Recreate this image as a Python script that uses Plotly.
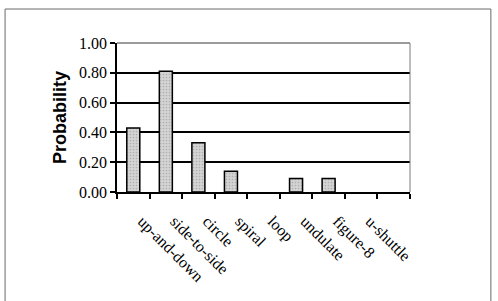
import plotly.graph_objects as go

categories = ["up-and-down", "side-to-side", "circle", "spiral", "loop",
              "undulate", "figure-8", "u-shuttle"]
probability = [0.43, 0.81, 0.33, 0.14, 0.0, 0.09, 0.09, 0.0]
y_ticks = [0.0, 0.2, 0.4, 0.6, 0.8, 1.0]

positions = list(range(len(categories)))
outline_widths = [1.5 if v > 0 else 0 for v in probability]

fig = go.Figure()
fig.add_trace(go.Bar(
    x=positions,
    y=probability,
    width=0.4,
    marker=dict(
        color="#cfcfcf",
        line=dict(color="black", width=outline_widths),
        pattern=dict(shape=".", fgcolor="#8a8a8a", bgcolor="#d4d4d4",
                     size=3, solidity=0.25),
    ),
    showlegend=False,
))

serif = "Times New Roman"

fig.update_layout(
    width=498, height=301,
    margin=dict(l=117, r=88, t=43, b=109),
    paper_bgcolor="white", plot_bgcolor="white",
    bargap=0.6,
    font=dict(family=serif),
    xaxis=dict(
        range=[-0.5, 8.5],
        tickmode="array", tickvals=positions, ticktext=categories,
        tickangle=45, ticks="", ticklabelstandoff=12, ticklabelshift=9,
        tickfont=dict(family=serif, size=16, color="black"),
        showline=True, linecolor="black", linewidth=1.5,
        showgrid=False, zeroline=False,
        minor=dict(tickmode="linear", tick0=-0.5, dtick=1, ticks="outside",
                   ticklen=5, tickcolor="black", tickwidth=1.5, showgrid=False),
    ),
    yaxis=dict(
        range=[0, 1], tickmode="array", tickvals=y_ticks,
        tickformat=".2f", ticks="outside", ticklen=5, tickwidth=1.5,
        tickcolor="black",
        tickfont=dict(family=serif, size=16, color="black"),
        showline=True, linecolor="black", linewidth=1.5,
        showgrid=True, gridcolor="black", gridwidth=1.5,
        zeroline=False,
        title=dict(text="<b>Probability</b>", standoff=8,
                   font=dict(family="Liberation Sans", size=18, color="black")),
    ),
    shapes=[
        dict(type="line", xref="paper", yref="paper", x0=0, x1=1, y0=1, y1=1,
             line=dict(color="#7a7a7a", width=1.5), layer="above"),
        dict(type="line", xref="paper", yref="paper", x0=1, x1=1, y0=0, y1=1,
             line=dict(color="#7a7a7a", width=1), layer="above"),
        dict(type="rect", xref="paper", yref="paper",
             x0=-0.382, x1=1.276, y0=-0.8, y1=1.228,
             line=dict(color="#6a6a6a", width=1), layer="below"),
    ],
)

fig.write_html("out.html")
